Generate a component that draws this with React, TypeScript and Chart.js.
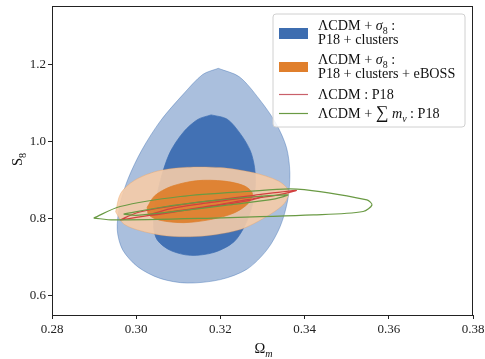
import React, { useEffect, useRef } from "react";
import { Chart, registerables } from "chart.js";
Chart.register(...registerables);

const xTicks = [0.28, 0.3, 0.32, 0.34, 0.36, 0.38];
const yTicks = [0.6, 0.8, 1.0, 1.2];
const xRange = [0.28, 0.38];
const yRange = [0.55, 1.353];

const blueOuter: number[][] = [
  [0.3195, 1.191], [0.3245, 1.169], [0.3293, 1.11], [0.3332, 1.048], [0.3357, 0.985],
  [0.3365, 0.919], [0.336, 0.849], [0.3342, 0.78], [0.3311, 0.72], [0.3263, 0.669],
  [0.32, 0.642], [0.3121, 0.633], [0.3057, 0.645], [0.3004, 0.675], [0.2968, 0.719],
  [0.2955, 0.771], [0.2961, 0.834], [0.298, 0.902], [0.3013, 0.978], [0.3058, 1.055],
  [0.3112, 1.124], [0.3158, 1.175],
];
const blueInner: number[][] = [
  [0.3178, 1.07], [0.3216, 1.059], [0.3248, 1.02], [0.3271, 0.977], [0.3281, 0.934],
  [0.3283, 0.884], [0.3275, 0.832], [0.3258, 0.782], [0.3232, 0.74], [0.3186, 0.713],
  [0.3129, 0.705], [0.3081, 0.718], [0.305, 0.745], [0.3041, 0.782], [0.3045, 0.834],
  [0.3058, 0.902], [0.308, 0.972], [0.3112, 1.025], [0.3146, 1.058],
];
const orangeOuter: number[][] = [
  [0.2951, 0.818], [0.2963, 0.866], [0.2996, 0.9], [0.305, 0.924], [0.3121, 0.934],
  [0.32, 0.933], [0.3278, 0.92], [0.3338, 0.898], [0.3362, 0.872], [0.3352, 0.84],
  [0.331, 0.806], [0.3247, 0.772], [0.3168, 0.756], [0.3089, 0.754], [0.302, 0.766],
  [0.2971, 0.786],
];
const orangeInner: number[][] = [
  [0.3026, 0.83], [0.3044, 0.86], [0.3083, 0.884], [0.3144, 0.899], [0.3208, 0.898],
  [0.3256, 0.886], [0.3276, 0.866], [0.3266, 0.84], [0.3232, 0.815], [0.3176, 0.798],
  [0.3113, 0.79], [0.3057, 0.796], [0.303, 0.81],
];
const redOuter: number[][] = [
  [0.2962, 0.797], [0.3, 0.815], [0.305, 0.827], [0.312, 0.839], [0.32, 0.85],
  [0.328, 0.861], [0.338, 0.874], [0.334, 0.863], [0.326, 0.849], [0.318, 0.834],
  [0.31, 0.821], [0.302, 0.807], [0.298, 0.8],
];
const redInner: number[][] = [
  [0.303, 0.81], [0.308, 0.826], [0.316, 0.84], [0.324, 0.852], [0.33, 0.858],
  [0.327, 0.848], [0.319, 0.834], [0.311, 0.821], [0.305, 0.811],
];
const greenOuter: number[][] = [
  [0.2899, 0.802], [0.2962, 0.832], [0.3105, 0.858], [0.3263, 0.871], [0.3382, 0.877],
  [0.3548, 0.849], [0.356, 0.836], [0.3539, 0.819], [0.3421, 0.81], [0.3183, 0.802],
  [0.2946, 0.797],
];
const greenInner: number[][] = [
  [0.297, 0.812], [0.306, 0.83], [0.318, 0.847], [0.329, 0.858], [0.336, 0.862],
  [0.333, 0.852], [0.322, 0.836], [0.31, 0.82], [0.3, 0.809],
];

const legendLabels = [
  [["ΛCDM + ", ""], ["σ", "i"], ["8", "s"], [" :", ""]],
  [["P18 + clusters", ""]],
  [["ΛCDM + ", ""], ["σ", "i"], ["8", "s"], [" :", ""]],
  [["P18 + clusters + eBOSS", ""]],
  [["ΛCDM : P18", ""]],
  [["ΛCDM + ", ""], ["∑", "b"], [" m", "i"], ["ν", "si"], [" : P18", ""]],
];

const SERIF = '"Liberation Serif", "DejaVu Serif", serif';

function drawRich(ctx: CanvasRenderingContext2D, x: number, y: number, parts: string[][], size: number) {
  let cx = x;
  for (const [t, st] of parts) {
    const sub = st.includes("s");
    const it = st.includes("i");
    const big = st.includes("b");
    const fs = sub ? size * 0.7 : big ? size * 1.25 : size;
    ctx.font = `${it ? "italic " : ""}${fs}px ${SERIF}`;
    ctx.fillText(t, cx, sub ? y + size * 0.25 : y);
    cx += ctx.measureText(t).width;
  }
}

function closed(p: number[][]) {
  const d = p.map(([x, y]) => ({ x, y }));
  d.push({ x: p[0][0], y: p[0][1] });
  return d;
}

const extras = {
  id: "extras",
  afterDraw(chart: any) {
    const ctx: CanvasRenderingContext2D = chart.ctx;
    const a = chart.chartArea;
    ctx.save();
    ctx.strokeStyle = "#222";
    ctx.lineWidth = 1;
    ctx.strokeRect(a.left + 0.5, a.top + 0.5, a.right - a.left - 1, a.bottom - a.top);
    const lx = 273, ly = 14, lw = 192, lh = 113;
    ctx.fillStyle = "rgba(255,255,255,0.85)";
    ctx.strokeStyle = "#d0d0d0";
    ctx.beginPath();
    (ctx as any).roundRect(lx, ly, lw, lh, 3);
    ctx.fill();
    ctx.stroke();
    ctx.fillStyle = "#3d6db0";
    ctx.fillRect(279, 28, 29, 11);
    ctx.fillStyle = "#e07f2c";
    ctx.fillRect(279, 62, 29, 10);
    ctx.lineWidth = 1.2;
    ctx.strokeStyle = "#c9606a";
    ctx.beginPath(); ctx.moveTo(279, 94.5); ctx.lineTo(308, 94.5); ctx.stroke();
    ctx.strokeStyle = "#6a9a44";
    ctx.beginPath(); ctx.moveTo(279, 113.5); ctx.lineTo(308, 113.5); ctx.stroke();
    ctx.fillStyle = "#111";
    ctx.textBaseline = "alphabetic";
    const ys = [30, 44, 64, 78, 99, 118];
    legendLabels.forEach((l, i) => drawRich(ctx, 318, ys[i], l, 14.2));
    ctx.textAlign = "left";
    const ox = (a.left + a.right) / 2 - 8;
    drawRich(ctx, ox, 353, [["Ω", ""], ["m", "si"]], 14.5);
    ctx.translate(22, 158);
    ctx.rotate(-Math.PI / 2);
    drawRich(ctx, -8, 0, [["S", ""], ["8", "s"]], 14.5);
    ctx.restore();
  },
};

export default function App() {
  const ref = useRef<HTMLCanvasElement>(null);
  useEffect(() => {
    document.body.style.margin = "0";
    const ds = (p: number[][], fill: string | false, stroke: string, bw: number, order: number, tension: number) => ({
      data: closed(p),
      showLine: true,
      pointRadius: 0,
      tension,
      fill: fill ? "shape" : false,
      backgroundColor: fill || "transparent",
      borderColor: stroke,
      borderWidth: bw,
      order,
    });
    const chart = new Chart(ref.current!, {
      type: "scatter",
      data: {
        datasets: [
          ds(blueOuter, "rgba(61,110,178,0.44)", "rgba(61,110,178,0.5)", 0.8, 10, 0.3),
          ds(blueInner, "rgba(61,110,178,0.95)", "rgba(61,110,178,0.9)", 0.8, 9, 0.3),
          ds(orangeOuter, "rgba(246,204,168,0.9)", "rgba(230,150,80,0.4)", 0.8, 8, 0.3),
          ds(orangeInner, "rgba(222,126,42,0.92)", "rgba(222,126,42,0.9)", 0.8, 7, 0.3),
          ds(redOuter, false, "#d2403f", 1.2, 6, 0.3),
          ds(redInner, false, "#d2403f", 1.2, 5, 0.3),
          ds(greenOuter, false, "#6a9a44", 1.2, 4, 0.3),
          ds(greenInner, false, "#6a9a44", 1.2, 3, 0.3),
        ] as any,
      },
      options: {
        animation: false,
        responsive: false,
        layout: { padding: { top: 6, right: 12, left: 0, bottom: 0 } },
        plugins: { legend: { display: false }, tooltip: { enabled: false } },
        scales: {
          x: {
            type: "linear",
            min: xRange[0],
            max: xRange[1],
            afterBuildTicks: (ax: any) => { ax.ticks = xTicks.map((v) => ({ value: v })); },
            afterFit: (ax: any) => { ax.height = 44; ax.paddingLeft = 0; ax.paddingRight = 0; },
            grid: { drawOnChartArea: false, drawTicks: true, tickLength: 4, color: "#222" },
            border: { color: "#222" },
            ticks: { color: "#222", padding: 3, font: { family: SERIF, size: 13 }, callback: (v: any) => Number(v).toFixed(2) },
          },
          y: {
            type: "linear",
            min: yRange[0],
            max: yRange[1],
            afterBuildTicks: (ax: any) => { ax.ticks = yTicks.map((v) => ({ value: v })); },
            afterFit: (ax: any) => { ax.width = 52; ax.paddingTop = 0; ax.paddingBottom = 0; },
            grid: { drawOnChartArea: false, drawTicks: true, tickLength: 4, color: "#222" },
            border: { color: "#222" },
            ticks: { color: "#222", padding: 2, font: { family: SERIF, size: 13 }, callback: (v: any) => Number(v).toFixed(1) },
          },
        },
      } as any,
      plugins: [extras],
    });
    return () => chart.destroy();
  }, []);
  return <canvas ref={ref} width={485} height={359} style={{ display: "block" }} />;
}
